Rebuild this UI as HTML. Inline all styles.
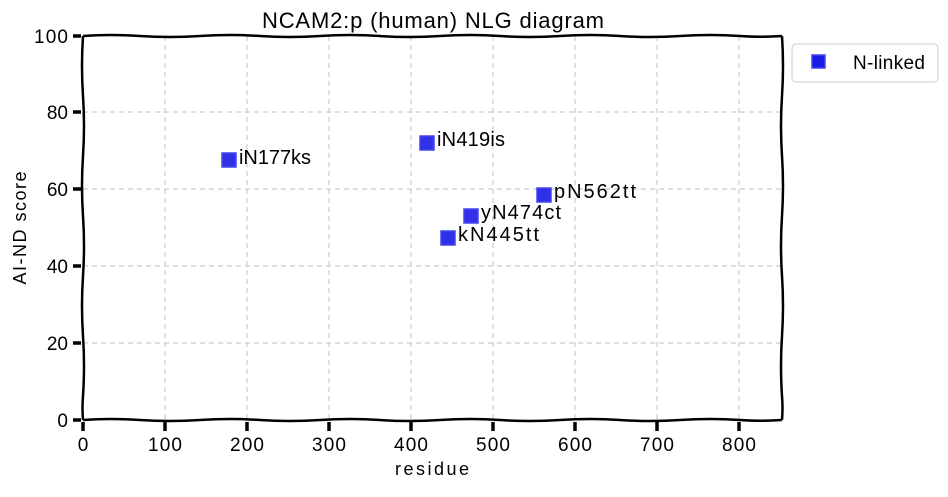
<!DOCTYPE html>
<html><head><meta charset="utf-8"><style>
body{margin:0;background:#fff;}
svg text{font-family:"Liberation Sans",sans-serif;fill:#000;}
</style></head><body>
<svg width="948" height="492" viewBox="0 0 948 492" xmlns="http://www.w3.org/2000/svg">
<g stroke="#ccc" stroke-width="1.2" stroke-dasharray="5,4" fill="none">
<line x1="165" y1="36" x2="165" y2="420"/><line x1="247" y1="36" x2="247" y2="420"/>
<line x1="329" y1="36" x2="329" y2="420"/><line x1="411" y1="36" x2="411" y2="420"/>
<line x1="493" y1="36" x2="493" y2="420"/><line x1="575" y1="36" x2="575" y2="420"/>
<line x1="657" y1="36" x2="657" y2="420"/><line x1="739" y1="36" x2="739" y2="420"/>
<line x1="83" y1="343" x2="781" y2="343"/><line x1="83" y1="266" x2="781" y2="266"/>
<line x1="83" y1="189" x2="781" y2="189"/><line x1="83" y1="112" x2="781" y2="112"/>
</g>
<g stroke="#000" stroke-width="2.5" fill="none">
<path d="M83,36 Q110,34 140,36 Q170,38 200,36 Q230,34 260,36 Q290,38 320,36 Q350,34 380,36 Q410,38 440,36 Q470,34 500,36 Q530,38 560,36 Q590,34 620,36 Q650,38 680,36 Q710,34 740,36 Q760,37.5 782,36"/>
<path d="M83,420 Q110,418 140,420 Q170,422 200,420 Q230,418 260,420 Q290,422 320,420 Q350,418 380,420 Q410,422 440,420 Q470,418 500,420 Q530,422 560,420 Q590,418 620,420 Q650,422 680,420 Q710,418 740,420 Q760,421.5 782,420"/>
<path d="M83,36 Q81,66 83,96 Q85,126 83,156 Q81,186 83,216 Q85,246 83,276 Q81,306 83,336 Q85,366 83,396 Q82,408 83,420"/>
<path d="M782,36 Q784,66 782,96 Q780,126 782,156 Q784,186 782,216 Q780,246 782,276 Q784,306 782,336 Q780,366 782,396 Q783,408 782,420"/>
</g>
<g stroke="#000" stroke-width="3.5">
<line x1="73" y1="36" x2="81" y2="36"/><line x1="73" y1="112" x2="81" y2="112"/>
<line x1="73" y1="189" x2="81" y2="189"/><line x1="73" y1="266" x2="81" y2="266"/>
<line x1="73" y1="343" x2="81" y2="343"/><line x1="73" y1="420" x2="81" y2="420"/>
<line x1="83" y1="422" x2="83" y2="431"/><line x1="165" y1="422" x2="165" y2="431"/>
<line x1="247" y1="422" x2="247" y2="431"/><line x1="329" y1="422" x2="329" y2="431"/>
<line x1="411" y1="422" x2="411" y2="431"/><line x1="493" y1="422" x2="493" y2="431"/>
<line x1="575" y1="422" x2="575" y2="431"/><line x1="657" y1="422" x2="657" y2="431"/>
<line x1="739" y1="422" x2="739" y2="431"/>
</g>
<g font-size="19" text-anchor="end">
<text x="68" y="43" textLength="34">100</text><text x="68" y="119">80</text><text x="68" y="196">60</text>
<text x="68" y="273">40</text><text x="68" y="350">20</text><text x="68" y="427">0</text>
</g>
<g font-size="19" text-anchor="middle">
<text x="83" y="451">0</text><text x="165" y="451" textLength="34">100</text><text x="247" y="451" textLength="34">200</text>
<text x="329" y="451" textLength="34">300</text><text x="411" y="451" textLength="34">400</text><text x="493" y="451" textLength="34">500</text>
<text x="575" y="451" textLength="34">600</text><text x="657" y="451" textLength="34">700</text><text x="739" y="451" textLength="34">800</text>
<text x="432" y="475" font-size="18" textLength="74">residue</text>
<text x="433" y="28" font-size="22" textLength="342">NCAM2:p (human) NLG diagram</text>
<text transform="translate(26,228) rotate(-90)" font-size="18" textLength="113">AI-ND score</text>
</g>
<g fill="#1a1ae6" stroke="#4444ee" stroke-width="1.5" fill-opacity="0.9">
<rect x="222" y="153" width="14" height="14"/>
<rect x="420" y="136" width="14" height="14"/>
<rect x="537" y="188" width="14" height="14"/>
<rect x="464" y="209" width="14" height="14"/>
<rect x="441" y="231" width="14" height="14"/>
</g>
<g font-size="20">
<text x="239" y="164" textLength="72">iN177ks</text>
<text x="437" y="146" textLength="68">iN419is</text>
<text x="554" y="198" textLength="82">pN562tt</text>
<text x="481" y="219" textLength="80">yN474ct</text>
<text x="458" y="241" textLength="81">kN445tt</text>
</g>
<rect x="792" y="44" width="146" height="38" rx="4" fill="#fff" stroke="#ccc" stroke-width="1"/>
<rect x="812" y="55" width="13" height="13" fill="#1a1ae6" stroke="#4444ee" stroke-width="1.5"/>
<text x="853" y="69" font-size="19" textLength="72">N-linked</text>
</svg>
</body></html>
